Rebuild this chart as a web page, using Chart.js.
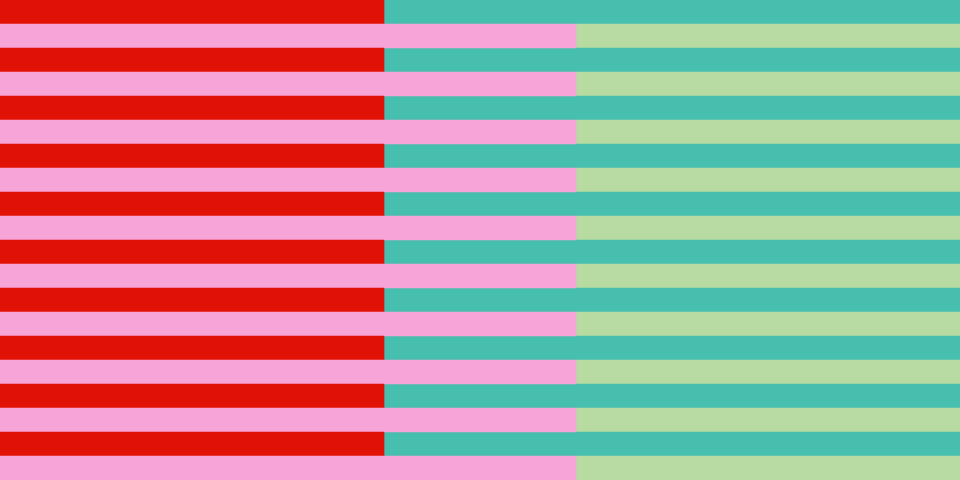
<!DOCTYPE html>
<html>
<head>
<meta charset="utf-8">
<script src="https://cdn.jsdelivr.net/npm/chart.js@4"></script>
<style>
  html, body { margin: 0; padding: 0; background: #fff; }
  #wrap { width: 960px; height: 480px; }
</style>
</head>
<body>
<div id="wrap"><canvas id="chart"></canvas></div>
<script>
// 20 stripes, alternating two patterns
const rows = Array.from({ length: 20 }, (_, i) => 'r' + (i + 1));
const leftValues = [40, 60, 40, 60, 40, 60, 40, 60, 40, 60, 40, 60, 40, 60, 40, 60, 40, 60, 40, 60];
const rightValues = [60, 40, 60, 40, 60, 40, 60, 40, 60, 40, 60, 40, 60, 40, 60, 40, 60, 40, 60, 40];
const leftColors = rows.map((_, i) => i % 2 === 0 ? '#e01205' : '#f7a4d9');
const rightColors = rows.map((_, i) => i % 2 === 0 ? '#47bfae' : '#b7dba0');

new Chart(document.getElementById('chart'), {
  type: 'bar',
  data: {
    labels: rows,
    datasets: [
      { data: leftValues, backgroundColor: leftColors, borderWidth: 0 },
      { data: rightValues, backgroundColor: rightColors, borderWidth: 0 }
    ]
  },
  options: {
    indexAxis: 'y',
    responsive: true,
    maintainAspectRatio: false,
    animation: false,
    layout: { padding: 0 },
    datasets: { bar: { categoryPercentage: 1, barPercentage: 1 } },
    plugins: { legend: { display: false }, tooltip: { enabled: false } },
    scales: {
      x: { stacked: true, min: 0, max: 100, display: false },
      y: { stacked: true, display: false }
    }
  }
});
</script>
</body>
</html>
